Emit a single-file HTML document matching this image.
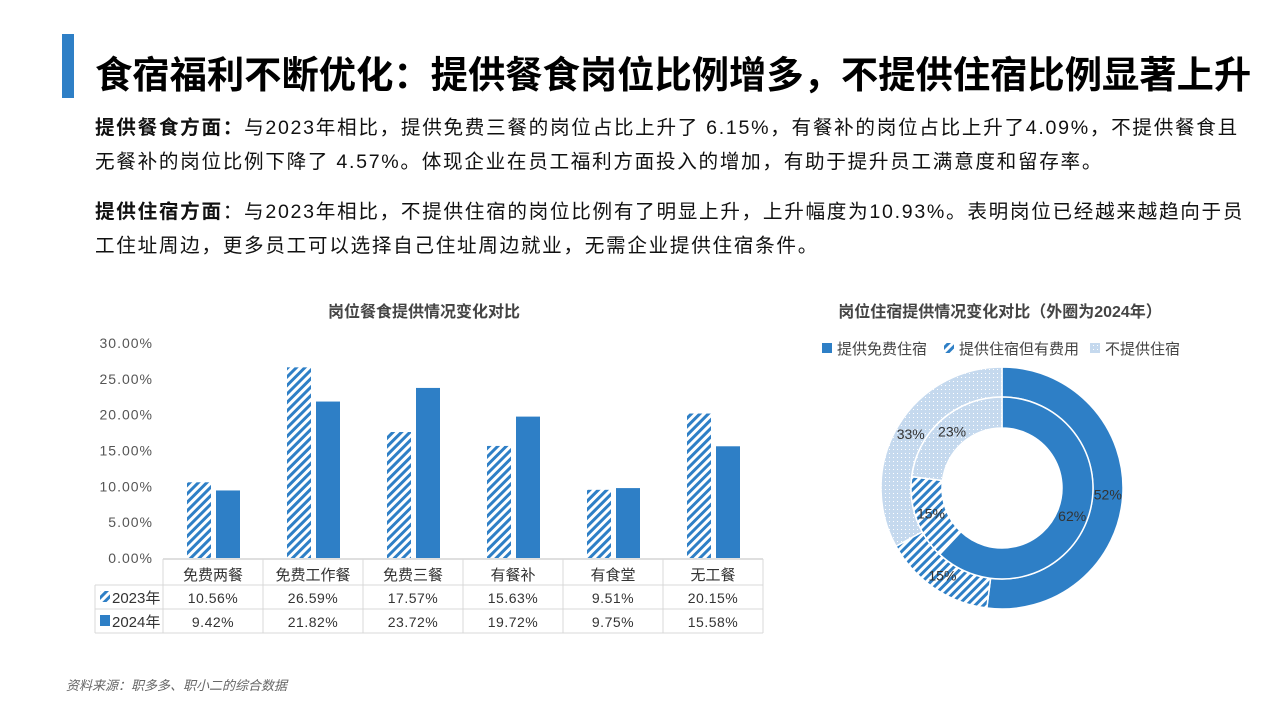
<!DOCTYPE html>
<html><head><meta charset="utf-8">
<style>
body{margin:0;width:1280px;height:720px;background:#fff;overflow:hidden;position:relative;font-family:"Liberation Sans","Noto Sans CJK SC",sans-serif;color:#111}
.abs{position:absolute;white-space:nowrap}
.p{font-size:19.6px;line-height:34px;left:95px;letter-spacing:1.7px}
</style></head><body>
<div class="abs" style="left:62px;top:34px;width:12px;height:64px;background:#2e7fc6"></div>
<div class="abs" style="left:95px;top:50px;font-size:37.3px;font-weight:bold;line-height:50px;color:#000">食宿福利不断优化：提供餐食岗位比例增多，不提供住宿比例显著上升</div>
<div class="abs p" style="top:111px"><b>提供餐食方面：</b>与2023年相比，提供免费三餐的岗位占比上升了 6.15%，有餐补的岗位占比上升了4.09%，不提供餐食且<br>无餐补的岗位比例下降了 4.57%。体现企业在员工福利方面投入的增加，有助于提升员工满意度和留存率。</div>
<div class="abs p" style="top:195px"><b>提供住宿方面</b>：与2023年相比，不提供住宿的岗位比例有了明显上升，上升幅度为10.93%。表明岗位已经越来越趋向于员<br>工住址周边，更多员工可以选择自己住址周边就业，无需企业提供住宿条件。</div>
<div class="abs" style="left:66px;top:675px;font-size:13px;font-style:italic;color:#666">资料来源：职多多、职小二的综合数据</div>

<svg class="abs" style="left:0;top:0" width="1280" height="720">
<defs>
<pattern id="hatch" patternUnits="userSpaceOnUse" width="6" height="6" patternTransform="rotate(45)">
<rect width="6" height="6" fill="#fff"/><rect width="3" height="6" fill="#2e7fc6"/></pattern>
<pattern id="dots" patternUnits="userSpaceOnUse" width="4" height="4">
<rect width="4" height="4" fill="#c5d9ee"/><rect x="1" y="1" width="1" height="1" fill="#fff"/></pattern>
</defs>
<g id="bar"></g>
<g id="pie"></g>
</svg>
<script>
const categories=["免费两餐","免费工作餐","免费三餐","有餐补","有食堂","无工餐"];
const series2023=[10.56,26.59,17.57,15.63,9.51,20.15];
const series2024=[9.42,21.82,23.72,19.72,9.75,15.58];
const yTicks=[0,5,10,15,20,25,30];
const pieLabels=["提供免费住宿","提供住宿但有费用","不提供住宿"];
const outer2024=[52,15,33];
const inner2023=[62,15,23];
const NS="http://www.w3.org/2000/svg";
function mk(p,tag,a,t){const e=document.createElementNS(NS,tag);for(const k in a)e.setAttribute(k,a[k]);if(t!==undefined)e.textContent=t;p.appendChild(e);return e;}
const bar=document.getElementById('bar');
const y=v=>558-v*7.17;
const colX=i=>163+i*100;
mk(bar,'text',{x:424,y:317,'text-anchor':'middle','font-size':16,'font-weight':'bold',fill:'#444'},"岗位餐食提供情况变化对比");
yTicks.forEach(t=>{const e=mk(bar,'text',{x:153,y:y(t)+5,'text-anchor':'end','font-size':14,fill:'#555','letter-spacing':1},t.toFixed(2)+"%");
});
categories.forEach((c,i)=>{const cx=colX(i)+50;
const b1=mk(bar,'rect',{x:cx-26,y:y(series2023[i]),width:24,height:series2023[i]*7.17,fill:'url(#hatch)'});

const b2=mk(bar,'rect',{x:cx+3,y:y(series2024[i]),width:24,height:series2024[i]*7.17,fill:'#2e7fc6'});

const l=mk(bar,'text',{x:cx,y:580,'text-anchor':'middle','font-size':15,fill:'#333'},c);

const v1=mk(bar,'text',{x:cx,y:603,'text-anchor':'middle','font-size':14,fill:'#333','letter-spacing':0.5},series2023[i].toFixed(2)+"%");

const v2=mk(bar,'text',{x:cx,y:627,'text-anchor':'middle','font-size':14,fill:'#333','letter-spacing':0.5},series2024[i].toFixed(2)+"%");
});
const g='#d9d9d9';
mk(bar,'line',{x1:163,y1:559,x2:763,y2:559,stroke:'#bfbfbf'});
[585,609,633].forEach(yy=>mk(bar,'line',{x1:95,y1:yy,x2:763,y2:yy,stroke:g}));
mk(bar,'line',{x1:95,y1:585,x2:95,y2:633,stroke:g});
for(let i=0;i<=6;i++)mk(bar,'line',{x1:colX(i),y1:559,x2:colX(i),y2:633,stroke:g});
mk(bar,'rect',{x:100,y:591,width:10,height:11,fill:'url(#hatch)'});
mk(bar,'text',{x:112,y:603,'font-size':15,fill:'#333'},"2023年");
mk(bar,'rect',{x:100,y:615,width:10,height:11,fill:'#2e7fc6'});
mk(bar,'text',{x:112,y:627,'font-size':15,fill:'#333'},"2024年");
const pie=document.getElementById('pie');
mk(pie,'text',{x:1000,y:317,'text-anchor':'middle','font-size':16,'font-weight':'bold',fill:'#444'},"岗位住宿提供情况变化对比（外圈为2024年）");
const fills=['#2e7fc6','url(#hatch)','url(#dots)'];
const lx=[822,944,1090];
pieLabels.forEach((n,i)=>{mk(pie,'rect',{x:lx[i],y:343,width:10,height:10,fill:fills[i]});
const t=mk(pie,'text',{x:lx[i]+15,y:354,'font-size':15,fill:'#444'},n);});
const CX=1002,CY=488;
function ring(vals,r0,r1,name){let a=0;const tot=vals.reduce((s,v)=>s+v,0);
vals.forEach((v,i)=>{const a0=a/tot*2*Math.PI,a1=(a+v)/tot*2*Math.PI;a+=v;
const P=(r,t)=>[CX+r*Math.sin(t),CY-r*Math.cos(t)];const lg=(a1-a0)>Math.PI?1:0;
const [x0,y0]=P(r1,a0),[x1,y1]=P(r1,a1),[x2,y2]=P(r0,a1),[x3,y3]=P(r0,a0);
const s=mk(pie,'path',{d:`M${x0},${y0}A${r1},${r1} 0 ${lg} 1 ${x1},${y1}L${x2},${y2}A${r0},${r0} 0 ${lg} 0 ${x3},${y3}Z`,fill:fills[i],stroke:'#fff','stroke-width':1.5});

const [tx,ty]=P((r0+r1)/2,(a0+a1)/2);
const t=mk(pie,'text',{x:tx,y:ty+5,'text-anchor':'middle','font-size':14,fill:'#333'},v+"%");
});}
ring(outer2024,91,121,'outer-2024');
ring(inner2023,60,91,'inner-2023');
</script>
</body></html>
